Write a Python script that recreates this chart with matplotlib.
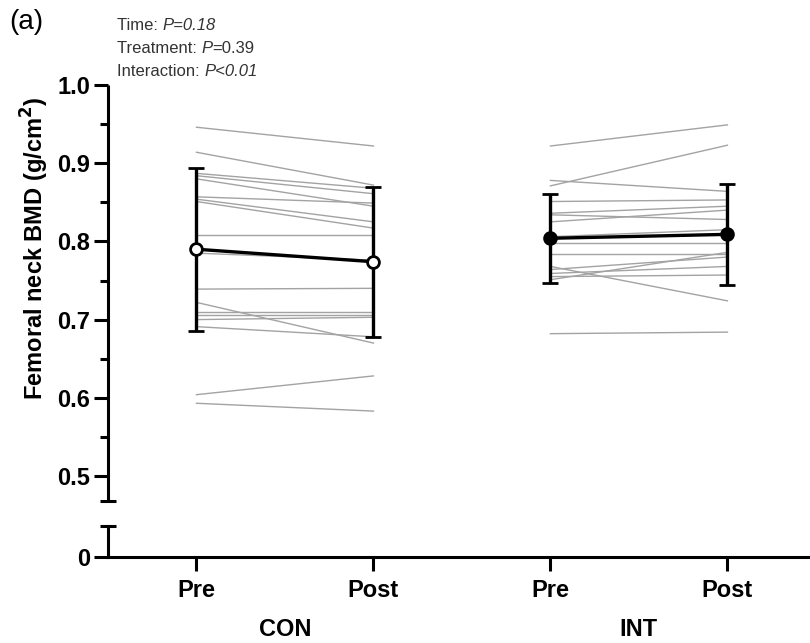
import numpy as np
import matplotlib.pyplot as plt

plt.rcParams['font.family'] = ['Liberation Sans', 'DejaVu Sans']

# individual subjects, femoral neck BMD (g/cm2)
con_pre = [0.946, 0.914, 0.887, 0.884, 0.880, 0.857, 0.854, 0.851, 0.808, 0.785,
           0.739, 0.722, 0.710, 0.706, 0.700, 0.691, 0.604, 0.593]
con_post = [0.922, 0.872, 0.868, 0.861, 0.845, 0.849, 0.825, 0.817, 0.808, 0.776,
            0.740, 0.670, 0.710, 0.706, 0.703, 0.678, 0.628, 0.583]
int_pre = [0.922, 0.871, 0.878, 0.851, 0.836, 0.834, 0.825, 0.806, 0.798, 0.784,
           0.768, 0.764, 0.759, 0.755, 0.751, 0.682]
int_post = [0.949, 0.923, 0.864, 0.853, 0.845, 0.828, 0.840, 0.815, 0.798, 0.784,
            0.724, 0.780, 0.768, 0.757, 0.786, 0.684]

# group mean and SD (Pre, Post)
con_mean = [0.790, 0.774]
con_sd = [0.104, 0.096]
int_mean = [0.804, 0.809]
int_sd = [0.057, 0.065]

groups = ["CON", "INT"]
tick_labels = ["Pre", "Post", "Pre", "Post"]
positions = [1, 2, 3, 4]

fig = plt.figure(figsize=(8.1, 6.43), dpi=100)
ax = fig.add_axes([0.1333, 0.2208, 0.874, 0.647])
axb = fig.add_axes([0.1333, 0.1337, 0.874, 0.0482])

spine_w = 2.2
grey = "#a3a3a3"
big = 17

for pre, post, xs in [(con_pre, con_post, positions[0:2]), (int_pre, int_post, positions[2:4])]:
    for a, b in zip(pre, post):
        ax.plot(xs, [a, b], color=grey, lw=1.0, zorder=1)

ax.errorbar(positions[0:2], con_mean, yerr=con_sd, color="black", lw=2.4,
            elinewidth=2.4, capsize=6, capthick=2.4, marker="o", ms=8.5,
            mfc="white", mec="black", mew=2, zorder=5)
ax.errorbar(positions[2:4], int_mean, yerr=int_sd, color="black", lw=2.4,
            elinewidth=2.4, capsize=6, capthick=2.4, marker="o", ms=8.5,
            mfc="black", mec="black", mew=2, zorder=5)

# upper axis segment
ax.set_xlim(0.5, 4.5)
ax.set_ylim(0.468, 1.0)
ax.set_yticks([0.5, 0.6, 0.7, 0.8, 0.9, 1.0])
ax.set_yticklabels(["0.5", "0.6", "0.7", "0.8", "0.9", "1.0"])
ax.set_yticks([0.55, 0.65, 0.75, 0.85, 0.95], minor=True)
ax.tick_params(axis="y", which="major", length=10, width=spine_w, labelsize=big, pad=3)
ax.tick_params(axis="y", which="minor", length=5.5, width=spine_w)
ax.set_xticks([])
for s in ["top", "right", "bottom"]:
    ax.spines[s].set_visible(False)
ax.spines["left"].set_linewidth(spine_w)
ax.spines["left"].set_capstyle("butt")
for lab in ax.get_yticklabels():
    lab.set_fontweight("bold")
ax.plot([0], [0], marker="_", ms=11.5, mew=spine_w, color="black",
        transform=ax.transAxes, clip_on=False)

# lower axis segment
axb.set_xlim(0.5, 4.5)
axb.set_ylim(0, 0.0396)
axb.set_yticks([0])
axb.set_yticklabels(["0"])
axb.set_xticks(positions)
axb.set_xticklabels(tick_labels)
axb.tick_params(axis="y", length=10, width=spine_w, labelsize=big, pad=3)
axb.tick_params(axis="x", length=10, width=spine_w, labelsize=big, pad=6)
for s in ["top", "right"]:
    axb.spines[s].set_visible(False)
axb.spines["left"].set_linewidth(spine_w)
axb.spines["bottom"].set_linewidth(spine_w)
for lab in axb.get_yticklabels() + axb.get_xticklabels():
    lab.set_fontweight("bold")
axb.plot([0], [1], marker="_", ms=11.5, mew=spine_w, color="black",
         transform=axb.transAxes, clip_on=False)

for i, g in enumerate(groups):
    cx = np.mean(positions[2 * i:2 * i + 2])
    axb.annotate(g, xy=(cx, 0), xycoords=("data", "axes fraction"),
                 xytext=(0, -52), textcoords="offset points",
                 ha="center", va="center", fontsize=big, fontweight="bold")

fig.text(0.0432, 0.614, "Femoral neck BMD (g/cm$^\\mathbf{2}$)", rotation=90,
         ha="center", va="center", fontsize=big, fontweight="bold")

fig.text(0.012, 0.966, "(a)", fontsize=20, va="center")

# statistics
tc = "#333333"
fs = 12
t1 = fig.text(0.1444, 0.961, "Time: ", fontsize=fs, color=tc, va="center")
ax.annotate("P=0.18", xy=(1, 0), xycoords=t1, va="bottom", fontsize=fs,
            color=tc, style="italic", annotation_clip=False)
t2 = fig.text(0.1444, 0.925, "Treatment: ", fontsize=fs, color=tc, va="center")
t2b = ax.annotate("P", xy=(1, 0), xycoords=t2, va="bottom", fontsize=fs,
                  color=tc, style="italic", annotation_clip=False)
ax.annotate("=0.39", xy=(1, 0), xycoords=t2b, va="bottom", fontsize=fs,
            color=tc, annotation_clip=False)
t3 = fig.text(0.1444, 0.889, "Interaction: ", fontsize=fs, color=tc, va="center")
ax.annotate("P<0.01", xy=(1, 0), xycoords=t3, va="bottom", fontsize=fs,
            color=tc, style="italic", annotation_clip=False)

fig.savefig("out.png", dpi=100)
